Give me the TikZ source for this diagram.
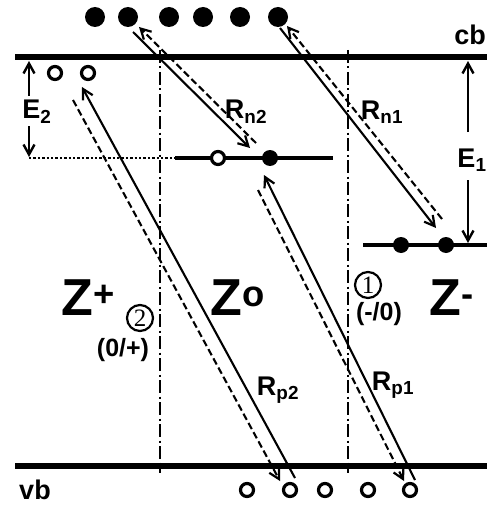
\documentclass[tikz,border=0pt]{standalone}
\usepackage{fontspec}
\setmainfont{Liberation Sans}
\newfontfamily\serifnum{Liberation Serif}
\usetikzlibrary{arrows.meta}
\begin{document}
\begin{tikzpicture}[x=1pt,y=-1pt,
  band/.style={line width=6.5pt},
  lvl/.style={line width=4pt},
  edot/.style={circle,fill=black,inner sep=0pt,minimum size=20pt},
  ldot/.style={circle,fill=black,inner sep=0pt,minimum size=16pt},
  hole/.style={circle,draw=black,line width=3.2pt,fill=white,inner sep=0pt,minimum size=13pt},
  tip/.style={-{Straight Barb[length=10pt,width=11pt,line width=2.2pt]}},
  sol/.style={line width=2.1pt,tip},
  dsh/.style={line width=2.1pt,dash pattern=on 7pt off 3.5pt,tip},
  dashdot/.style={line width=2pt,dash pattern=on 13pt off 3.5pt on 2pt off 3.5pt},
  ear/.style={line width=2.4pt,-{Straight Barb[length=10pt,width=11pt,line width=2.4pt]}},
  lab/.style={font=\fontsize{27}{27}\selectfont\bfseries,inner sep=0pt},
  big/.style={font=\fontsize{52}{52}\selectfont\bfseries,inner sep=0pt},
  trans/.style={font=\fontsize{25}{25}\selectfont\bfseries,inner sep=0pt},
  circnum/.style={circle,draw=black,line width=2.2pt,inner sep=0pt,minimum size=26pt,font=\serifnum\fontsize{25}{25}\selectfont}
]
\useasboundingbox (0,0) rectangle (487,508);

% vertical dash-dot boundaries
\draw[dashdot] (160,50) -- (160,473);
\draw[dashdot] (348,50) -- (348,473);

% bands
\coordinate (cbL) at (15,57);
\coordinate (cbR) at (487,57);
\coordinate (vbL) at (15,466);
\coordinate (vbR) at (487,466);
\draw[band] (cbL) -- (cbR);
\draw[band] (vbL) -- (vbR);
\node[lab,anchor=east] (cb) at (486,35) {cb};
\node[lab] (vb) at (35,490) {vb};

% defect levels
\coordinate (z0L) at (175,158);
\coordinate (z0R) at (333,158);
\coordinate (zmL) at (363,245);
\coordinate (zmR) at (487,245);
\coordinate (dotL) at (29,158);
\draw[line width=2.4pt,dotted] (dotL) -- (z0L);
\draw[lvl] (z0L) -- (z0R);
\draw[lvl] (zmL) -- (zmR);

% electrons in cb
\foreach \x [count=\i] in {95,128,169,203,240,278}
  \node[edot] (e\i) at (\x,17) {};
% holes near cb
\node[hole] (h1) at (55,73) {};
\node[hole] (h2) at (88,73) {};
% level carriers
\node[hole] (z0h) at (218,158) {};
\node[ldot] (z0e) at (270,158) {};
\node[ldot] (zm1) at (401,245) {};
\node[ldot] (zm2) at (446,245) {};
% holes in vb
\foreach \x [count=\i] in {247,290,325,368,410}
  \node[hole] (v\i) at (\x,490) {};

% E2
\coordinate (e2top) at (29,61);
\coordinate (e2bot) at (29,157);
\node[lab] (E2) at (37,112) {E\textsubscript{2}};
\draw[ear] (29,96) -- (e2top);
\draw[ear] (29,126) -- (e2bot);
% E1
\coordinate (e1top) at (468,61);
\coordinate (e1bot) at (468,243);
\node[lab] (E1) at (472,160) {E\textsubscript{1}};
\draw[ear] (468,132) -- (e1top);
\draw[ear] (468,180) -- (e1bot);

% Rn2
\coordinate (rn2a) at (133,32);
\coordinate (rn2b) at (250,148);
\coordinate (rn2c) at (256,143);
\coordinate (rn2d) at (139,27);
\draw[sol] (rn2a) -- (rn2b);
\draw[dsh] (rn2c) -- (rn2d);
\node[lab] (Rn2) at (246,112) {R\textsubscript{n2}};
% Rn1
\coordinate (rn1a) at (280,28);
\coordinate (rn1b) at (436,228);
\coordinate (rn1c) at (442,219);
\coordinate (rn1d) at (287,26);
\draw[sol] (rn1a) -- (rn1b);
\draw[dsh] (rn1c) -- (rn1d);
\node[lab] (Rn1) at (382,112) {R\textsubscript{n1}};
% Rp2
\coordinate (rp2a) at (295,478);
\coordinate (rp2b) at (82,87);
\coordinate (rp2c) at (73,100);
\coordinate (rp2d) at (280,481);
\draw[sol] (rp2a) -- (rp2b);
\draw[dsh] (rp2c) -- (rp2d);
\node[lab] (Rp2) at (278,390) {R\textsubscript{p2}};
% Rp1
\coordinate (rp1a) at (415,480);
\coordinate (rp1b) at (264,175);
\coordinate (rp1c) at (258,190);
\coordinate (rp1d) at (404,481);
\draw[sol] (rp1a) -- (rp1b);
\draw[dsh] (rp1c) -- (rp1d);
\node[lab] (Rp1) at (393,385) {R\textsubscript{p1}};

% charge states
\node[big] (Zp) at (88,298) {Z\textsuperscript{+}};
\node[big] (Z0) at (238,298) {Z\textsuperscript{o}};
\node[big] (Zm) at (452,298) {Z\textsuperscript{-}};

% transitions
\node[circnum] (c2) at (140,318) {2};
\node[trans] (t2) at (123,350) {(0/+)};
\node[circnum] (c1) at (368,285) {1};
\node[trans] (t1) at (379,314) {(-/0)};
\end{tikzpicture}
\end{document}
